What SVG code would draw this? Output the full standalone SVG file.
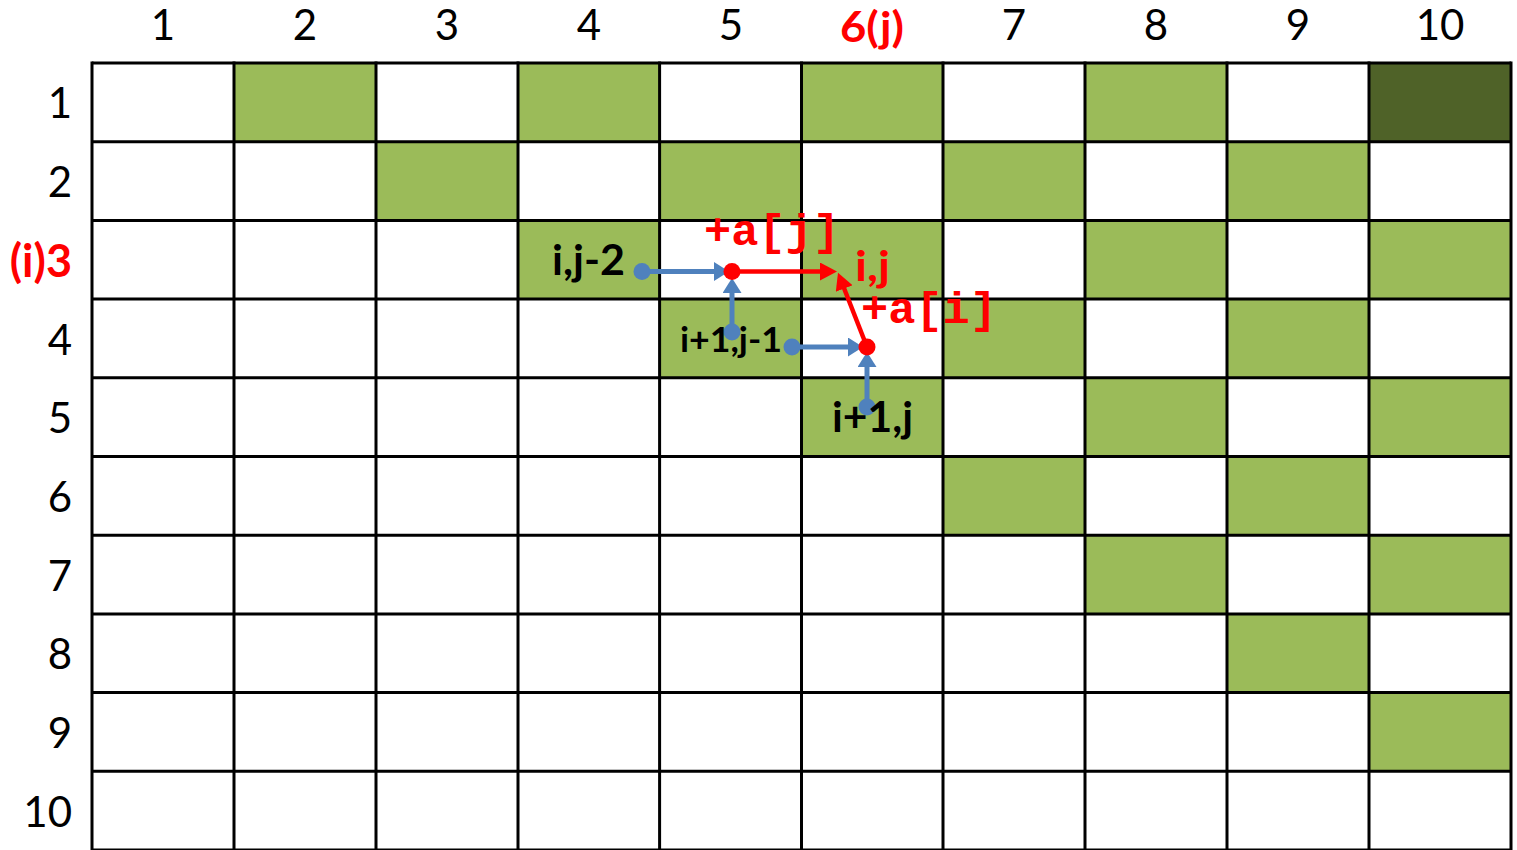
<svg xmlns="http://www.w3.org/2000/svg" width="1517" height="850" viewBox="0 0 1517 850">
<defs>
<style>
.hdr{font-family:Lato,"Open Sans","Liberation Sans",sans-serif;font-size:42px;fill:#000;text-anchor:middle}
.rowl{font-family:Lato,"Open Sans","Liberation Sans",sans-serif;font-size:42px;fill:#000;text-anchor:end}
.red{fill:#FF0000;font-weight:bold;font-size:45px}
.g{fill:#9BBB59}
.gd{fill:#4F6228}
.grid line{stroke:#000;stroke-width:3}
.lbl{font-family:Lato,"Open Sans","Liberation Sans",sans-serif;font-weight:bold;fill:#000}
.lblr{font-family:Lato,"Open Sans","Liberation Sans",sans-serif;font-weight:bold;fill:#FF0000}
.code{font-family:"Liberation Mono","Courier New",monospace;font-weight:bold;font-size:44px;fill:#FF0000}
.blue{stroke:#4F81BD;stroke-width:5;fill:none}
.redl{stroke:#FF0000;stroke-width:4.5;fill:none}
</style>
<marker id="ab" markerUnits="userSpaceOnUse" markerWidth="17" markerHeight="19" refX="4" refY="9.5" orient="auto">
<path d="M0,0 L15,9.5 L0,19 z" fill="#4F81BD"/>
</marker>
<marker id="ar" markerUnits="userSpaceOnUse" markerWidth="18" markerHeight="18" refX="6" refY="9" orient="auto">
<path d="M0,0 L17,9 L0,18 z" fill="#FF0000"/>
</marker>
</defs>
<rect width="1517" height="850" fill="#fff"/>
<g id="cells">
<rect class="g" x="234" y="63" width="142" height="79"/>
<rect class="g" x="518" y="63" width="142" height="79"/>
<rect class="g" x="801" y="63" width="142" height="79"/>
<rect class="g" x="1085" y="63" width="142" height="79"/>
<rect class="gd" x="1369" y="63" width="142" height="79"/>
<rect class="g" x="376" y="141" width="142" height="80"/>
<rect class="g" x="660" y="141" width="142" height="80"/>
<rect class="g" x="943" y="141" width="142" height="80"/>
<rect class="g" x="1227" y="141" width="142" height="80"/>
<rect class="g" x="518" y="220" width="142" height="79"/>
<rect class="g" x="801" y="220" width="142" height="79"/>
<rect class="g" x="1085" y="220" width="142" height="79"/>
<rect class="g" x="1369" y="220" width="142" height="79"/>
<rect class="g" x="660" y="299" width="142" height="79"/>
<rect class="g" x="943" y="299" width="142" height="79"/>
<rect class="g" x="1227" y="299" width="142" height="79"/>
<rect class="g" x="801" y="378" width="142" height="79"/>
<rect class="g" x="1085" y="378" width="142" height="79"/>
<rect class="g" x="1369" y="378" width="142" height="79"/>
<rect class="g" x="943" y="456" width="142" height="79"/>
<rect class="g" x="1227" y="456" width="142" height="79"/>
<rect class="g" x="1085" y="535" width="142" height="79"/>
<rect class="g" x="1369" y="535" width="142" height="79"/>
<rect class="g" x="1227" y="614" width="142" height="79"/>
<rect class="g" x="1369" y="693" width="142" height="79"/>
</g>
<g id="grid" class="grid">
<line x1="92" y1="63" x2="1511" y2="63"/>
<line x1="92" y1="141.7" x2="1511" y2="141.7"/>
<line x1="92" y1="220.4" x2="1511" y2="220.4"/>
<line x1="92" y1="299.1" x2="1511" y2="299.1"/>
<line x1="92" y1="377.8" x2="1511" y2="377.8"/>
<line x1="92" y1="456.5" x2="1511" y2="456.5"/>
<line x1="92" y1="535.2" x2="1511" y2="535.2"/>
<line x1="92" y1="613.9" x2="1511" y2="613.9"/>
<line x1="92" y1="692.6" x2="1511" y2="692.6"/>
<line x1="92" y1="771.3" x2="1511" y2="771.3"/>
<line x1="92" y1="850" x2="1511" y2="850"/>
<line x1="92" y1="61.5" x2="92" y2="850"/>
<line x1="234" y1="61.5" x2="234" y2="850"/>
<line x1="376" y1="61.5" x2="376" y2="850"/>
<line x1="518" y1="61.5" x2="518" y2="850"/>
<line x1="659.6" y1="61.5" x2="659.6" y2="850"/>
<line x1="801.5" y1="61.5" x2="801.5" y2="850"/>
<line x1="943" y1="61.5" x2="943" y2="850"/>
<line x1="1085" y1="61.5" x2="1085" y2="850"/>
<line x1="1227" y1="61.5" x2="1227" y2="850"/>
<line x1="1369" y1="61.5" x2="1369" y2="850"/>
<line x1="1511" y1="61.5" x2="1511" y2="850"/>
</g>
<g id="col-headers">
<text class="hdr" x="163" y="40">1</text>
<text class="hdr" x="305" y="40">2</text>
<text class="hdr" x="447" y="40">3</text>
<text class="hdr" x="589" y="40">4</text>
<text class="hdr" x="731" y="40">5</text>
<text class="hdr red" x="872" y="42" style="font-size:42px" textLength="64" lengthAdjust="spacingAndGlyphs">6(j)</text>
<text class="hdr" x="1014" y="40">7</text>
<text class="hdr" x="1156" y="40">8</text>
<text class="hdr" x="1298" y="40">9</text>
<text class="hdr" x="1440" y="40">10</text>
</g>
<g id="row-headers">
<text class="rowl" x="72" y="118">1</text>
<text class="rowl" x="72" y="197">2</text>
<text class="rowl red" x="72" y="277">(i)3</text>
<text class="rowl" x="72" y="355">4</text>
<text class="rowl" x="72" y="433">5</text>
<text class="rowl" x="72" y="512">6</text>
<text class="rowl" x="72" y="591">7</text>
<text class="rowl" x="72" y="669">8</text>
<text class="rowl" x="72" y="748">9</text>
<text class="rowl" x="72" y="827">10</text>
</g>
<g id="connectors">
<line class="blue" x1="642" y1="271.5" x2="718" y2="271.5" marker-end="url(#ab)"/>
<line class="blue" x1="732" y1="332" x2="732" y2="289" marker-end="url(#ab)"/>
<line class="blue" x1="792" y1="347" x2="852" y2="347" marker-end="url(#ab)"/>
<line class="blue" x1="867" y1="407" x2="867" y2="363" marker-end="url(#ab)"/>
<line class="redl" x1="732" y1="271.5" x2="826" y2="271.5" marker-end="url(#ar)"/>
<line class="redl" x1="867" y1="347" x2="842" y2="283" marker-end="url(#ar)"/>
</g>
<g id="node-ij2">
<circle cx="642" cy="271.5" r="8.5" fill="#4F81BD"/>
<text class="lbl" x="552" y="275" font-size="42" textLength="73" lengthAdjust="spacingAndGlyphs">i,j-2</text>
</g>
<g id="node-i1j1">
<circle cx="732" cy="332" r="8.5" fill="#4F81BD"/>
<circle cx="792" cy="347" r="8.5" fill="#4F81BD"/>
<text class="lbl" x="680" y="352" font-size="34" textLength="102" lengthAdjust="spacingAndGlyphs">i+1,j-1</text>
</g>
<g id="node-i1j">
<circle cx="867" cy="407" r="8.5" fill="#4F81BD"/>
<text class="lbl" x="832" y="432" font-size="42" textLength="81" lengthAdjust="spacingAndGlyphs">i+1,j</text>
</g>
<g id="node-ij">
<text class="lblr" x="855" y="281" font-size="42" textLength="35" lengthAdjust="spacingAndGlyphs">i,j</text>
</g>
<g id="mid-points">
<circle cx="732" cy="271.5" r="8.5" fill="#FF0000"/>
<circle cx="867" cy="347" r="8.5" fill="#FF0000"/>
</g>
<g id="labels">
<text class="code" x="704" y="245" textLength="136" lengthAdjust="spacingAndGlyphs">+a[j]</text>
<text class="code" x="861" y="323" textLength="136" lengthAdjust="spacingAndGlyphs">+a[i]</text>
</g>
</svg>
